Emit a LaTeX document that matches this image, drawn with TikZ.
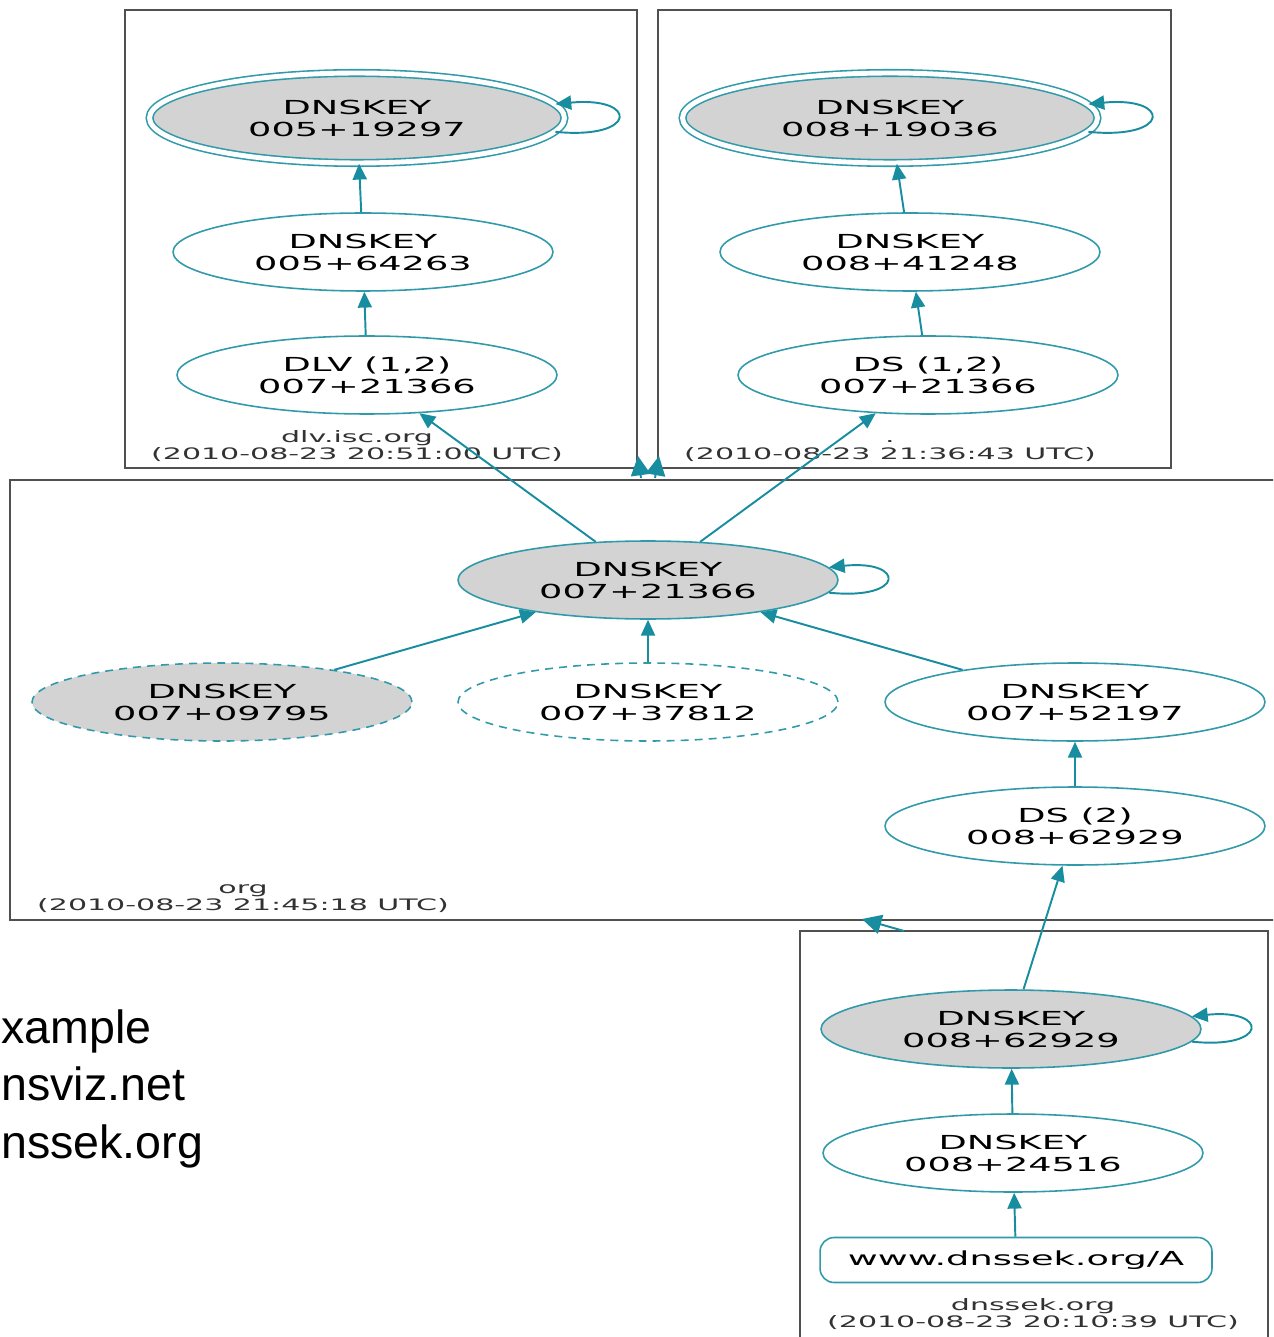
\documentclass[tikz,border=0pt]{standalone}
\usepackage{fontspec}
\newfontfamily\graphfont[FakeStretch=1.9]{DejaVu Sans}
\newfontfamily\notefont{Liberation Sans}
\usetikzlibrary{shapes.geometric,arrows.meta}
\definecolor{edgeteal}{RGB}{24,141,160}
\definecolor{keyline}{RGB}{48,154,170}
\definecolor{boxgray}{RGB}{80,80,80}
\definecolor{kskfill}{RGB}{211,211,211}
\definecolor{labelgray}{RGB}{50,50,50}
\begin{document}
\begin{tikzpicture}[x=0.02cm, y=-0.02cm, >={Triangle[length=9pt,width=8pt]},
  cluster/.style={draw=boxgray, line width=1.2pt},
  keynode/.style={ellipse, draw=keyline, line width=0.9pt, inner sep=0pt,
    minimum width=7.6cm, minimum height=1.56cm, align=center,
    font=\graphfont\fontsize{11}{12.5}\selectfont},
  ksknode/.style={keynode, fill=kskfill},
  anchorkey/.style={ksknode, double=white, double distance=2.8pt,
    minimum width=8.3cm, minimum height=1.8cm},
  dashkey/.style={keynode, dash pattern=on 4.5pt off 3.5pt},
  rrset/.style={rectangle, rounded corners=8pt, draw=keyline, line width=0.9pt,
    inner sep=0pt, minimum width=7.84cm, minimum height=0.9cm,
    font=\graphfont\fontsize{11}{12.5}\selectfont},
  zonelabel/.style={align=center, anchor=south, inner sep=0pt, text=labelgray,
    font=\graphfont\fontsize{9}{9.6}\selectfont},
  edge/.style={draw=edgeteal, line width=1.1pt, ->},
  zonelink/.style={draw=edgeteal, line width=1.1pt, -{Triangle[length=11pt,width=11pt]}},
  slidetext/.style={anchor=base west, inner sep=0pt,
    font=\notefont\fontsize{26.5}{32.6}\selectfont}]
\useasboundingbox (0,0) rectangle (1273,1337);
\clip (0,0) rectangle (1273,1337);

% zones
\draw[cluster] (125,10) rectangle (637,468);
\draw[cluster] (658,10) rectangle (1171,468);
\draw[cluster] (10,480) rectangle (1290,920);
\draw[cluster] (800,931) rectangle (1268,1350);

% dlv.isc.org
\node[anchorkey] (dlvksk) at (357,118) {DNSKEY\\005+19297};
\node[keynode] (dlvzsk) at (363,252) {DNSKEY\\005+64263};
\node[keynode] (dlvrec) at (367,375) {DLV (1,2)\\007+21366};
\node[zonelabel] (dlvname) at (357,462) {dlv.isc.org\\(2010-08-23 20:51:00 UTC)};

% root
\node[anchorkey] (rootksk) at (890,118) {DNSKEY\\008+19036};
\node[keynode] (rootzsk) at (910,252) {DNSKEY\\008+41248};
\node[keynode] (rootds) at (928,375) {DS (1,2)\\007+21366};
\node[zonelabel] (rootname) at (890,462) {.\\(2010-08-23 21:36:43 UTC)};

% org
\node[ksknode] (orgksk) at (648,580) {DNSKEY\\007+21366};
\node[ksknode, dash pattern=on 4.5pt off 3.5pt] (orgold) at (222,702) {DNSKEY\\007+09795};
\node[dashkey] (orgrev) at (648,702) {DNSKEY\\007+37812};
\node[keynode] (orgzsk) at (1075,702) {DNSKEY\\007+52197};
\node[keynode] (orgds) at (1075,826) {DS (2)\\008+62929};
\node[zonelabel] (orgname) at (243,913) {org\\(2010-08-23 21:45:18 UTC)};

% dnssek.org
\node[ksknode] (siteksk) at (1011,1029) {DNSKEY\\008+62929};
\node[keynode] (sitezsk) at (1013,1153) {DNSKEY\\008+24516};
\node[rrset] (siterr) at (1016,1260) {www.dnssek.org/A};
\node[zonelabel] (sitename) at (1033,1330) {dnssek.org\\(2010-08-23 20:10:39 UTC)};

% slide text
\node[slidetext] (note1) at (1,1043) {xample};
\node[slidetext] (note2) at (1,1100) {nsviz.net};
\node[slidetext] (note3) at (1,1158) {nssek.org};

% links between zones
\coordinate (orgtopa) at (641,478);
\coordinate (dlvfoot) at (638,456);
\coordinate (orgtopb) at (655,478);
\coordinate (rootfoot) at (659,456);
\coordinate (sitetop) at (904,931);
\coordinate (orgfoot) at (862,919);
\draw[zonelink] (orgtopa) -- (dlvfoot);
\draw[zonelink] (orgtopb) -- (rootfoot);
\draw[zonelink] (sitetop) -- (orgfoot);

% chains
\draw[edge] (dlvzsk) -- (dlvksk);
\draw[edge] (dlvrec) -- (dlvzsk);
\draw[edge] (rootzsk) -- (rootksk);
\draw[edge] (rootds) -- (rootzsk);
\draw[edge] (orgksk) -- (dlvrec);
\draw[edge] (orgksk) -- (rootds);
\draw[edge] (orgold) -- (orgksk);
\draw[edge] (orgrev) -- (orgksk);
\draw[edge] (orgzsk) -- (orgksk);
\draw[edge] (orgds) -- (orgzsk);
\draw[edge] (siteksk) -- (orgds);
\draw[edge] (sitezsk) -- (siteksk);
\draw[edge] (siterr) -- (sitezsk);

% self signatures
\draw[edge] (dlvksk.-4) .. controls +(83,8) and +(83,-8) .. (dlvksk.4);
\draw[edge] (rootksk.-4) .. controls +(83,8) and +(83,-8) .. (rootksk.4);
\draw[edge] (orgksk.-4) .. controls +(77,8) and +(77,-8) .. (orgksk.4);
\draw[edge] (siteksk.-4) .. controls +(77,8) and +(77,-8) .. (siteksk.4);
\end{tikzpicture}
\end{document}
